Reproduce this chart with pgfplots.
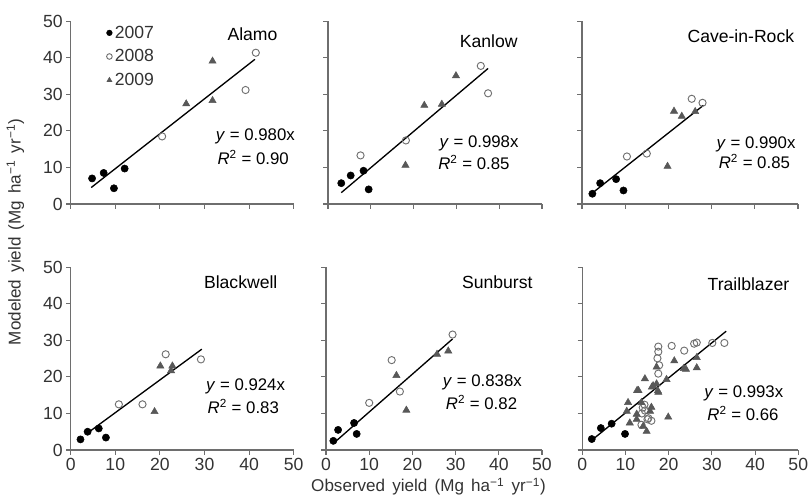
\documentclass[border=0pt]{standalone}
\usepackage{fontspec}
\setmainfont{Liberation Sans}
\usepackage{pgfplots}
\pgfplotsset{compat=1.18}
\definecolor{axgray}{HTML}{6E6E6E}
\definecolor{tri}{HTML}{585858}
\definecolor{opc}{HTML}{707070}
\definecolor{txt}{HTML}{333333}
\newcommand{\fs}{\fontsize{13.2}{15}\selectfont}
\newcommand{\fe}{\fontsize{12.6}{15}\selectfont}
\newcommand{\fl}{\fontsize{12.8}{15}\selectfont\spaceskip=0.42em plus 0.1em}
\pgfplotsset{
 panel/.style={
  scale only axis, height=137pt,
  xmin=0,xmax=50,ymin=0,ymax=50,
  axis x line*=bottom, axis y line*=left,
  axis line style={axgray, line width=0.9pt},
  xtick={0,10,...,50}, ytick={0,10,...,50},
  tick align=outside, major tick length=3.5pt,
  tick style={axgray, line width=0.8pt},
  tick label style={font=\fs, text=txt},
  xticklabel style={yshift=1pt},
  yticklabel style={xshift=1pt},
  /pgf/number format/assume math mode=true,
  anchor=south west, clip=false,
  every node/.append style={text=txt},
 },
 y07/.style={only marks, mark=*, mark size=2.7pt, black},
 y08/.style={only marks, mark=o, mark size=2.7pt, opc, mark options={fill=white, line width=0.7pt}},
 y09/.style={only marks, mark=triangle*, mark size=3.1pt, tri},
 fit/.style={black, line width=1pt, no marks},
}
\begin{document}
\begin{tikzpicture}
\useasboundingbox (0,0) rectangle (606pt,376.5pt);

% Alamo
\begin{axis}[panel, width=167.3pt, at={(53pt,223.5pt)}, xticklabels={},
  legend style={at={(axis cs:8.0,49.6)}, anchor=north west, draw=none, fill=none, font=\fs, row sep=3pt, inner sep=0pt, text=txt},
  legend cell align=left,
  legend image code/.code={\draw[mark repeat=2,mark phase=2,#1,mark size=2.1pt] plot coordinates {(0cm,0cm)(0.1cm,0cm)(0.2cm,0cm)};}]
\addplot[y07] coordinates {(4.8,7.0)(7.4,8.5)(9.7,4.3)(12.1,9.7)};
\addlegendentry{2007}
\addplot[y08] coordinates {(20.5,18.5)(39.2,31.2)(41.5,41.4)};
\addlegendentry{2008}
\addplot[y09] coordinates {(25.9,27.4)(31.8,28.3)(31.8,39.1)};
\addlegendentry{2009}
\addplot[fit, forget plot] coordinates {(4.6,4.5)(41.3,39.6)};
\node[anchor=east, font=\fs] at (axis cs:47.4,46.5) {Alamo};
\node[font=\fe] at (axis cs:41.4,18.5) {\textit{y} = 0.980x};
\node[font=\fe] at (axis cs:40.9,12.8) {\textit{R}\textsuperscript{2} = 0.90};
\end{axis}

% Kanlow
\begin{axis}[panel, width=160.5pt, at={(246pt,223.5pt)}, xticklabels={}, yticklabels={}]
\addplot[y07] coordinates {(3.1,5.7)(5.3,7.8)(8.3,9.1)(9.5,4.0)};
\addplot[y08] coordinates {(7.6,13.3)(18.2,17.4)(35.7,37.8)(37.4,30.3)};
\addplot[y09] coordinates {(18.1,10.6)(22.5,27.0)(26.6,27.3)(29.9,35.1)};
\addplot[fit] coordinates {(3.1,3.1)(37.4,37.1)};
\node[anchor=east, font=\fs] at (axis cs:45.4,44.6) {Kanlow};
\node[font=\fe] at (axis cs:35.3,16.5) {\textit{y} = 0.998x};
\node[font=\fe] at (axis cs:34.1,11.3) {\textit{R}\textsuperscript{2} = 0.85};
\end{axis}

% Cave-in-Rock
\begin{axis}[panel, width=162pt, at={(436.5pt,223.5pt)}, xticklabels={}, yticklabels={}]
\addplot[y07] coordinates {(2.4,2.8)(4.2,5.7)(7.9,6.8)(9.6,3.7)};
\addplot[y08] coordinates {(10.4,13.0)(15.0,13.8)(25.4,28.8)(27.9,27.7)};
\addplot[y09] coordinates {(19.8,10.3)(21.3,25.4)(23.1,24.0)(26.2,25.3)};
\addplot[fit] coordinates {(2.5,3.1)(28.1,27.0)};
\node[anchor=east, font=\fs] at (axis cs:50.2,46) {Cave-in-Rock};
\node[font=\fe] at (axis cs:40.3,16.3) {\textit{y} = 0.990x};
\node[font=\fe] at (axis cs:39.9,11.6) {\textit{R}\textsuperscript{2} = 0.85};
\end{axis}

% Blackwell
\begin{axis}[panel, width=167.3pt, at={(53pt,39pt)}]
\addplot[y07] coordinates {(2.2,2.9)(3.8,5.0)(6.3,5.9)(7.9,3.4)};
\addplot[y08] coordinates {(10.8,12.5)(16.1,12.5)(21.3,26.2)(29.2,24.8)};
\addplot[y09] coordinates {(18.8,10.5)(20.1,23.0)(22.8,23.0)(22.5,21.7)};
\addplot[fit] coordinates {(3.4,4.3)(29.4,27.6)};
\node[anchor=east, font=\fs] at (axis cs:47.4,45.8) {Blackwell};
\node[font=\fe] at (axis cs:39.2,17.3) {\textit{y} = 0.924x};
\node[font=\fe] at (axis cs:38.7,12.0) {\textit{R}\textsuperscript{2} = 0.83};
\end{axis}

% Sunburst
\begin{axis}[panel, width=162pt, at={(244.5pt,39pt)}, yticklabels={}]
\addplot[y07] coordinates {(1.7,2.5)(2.8,5.5)(6.5,7.4)(7.1,4.4)};
\addplot[y08] coordinates {(10.0,12.9)(15.2,24.6)(17.1,16.0)(29.3,31.6)};
\addplot[y09] coordinates {(16.3,20.4)(18.6,10.9)(25.7,26.2)(28.3,27.1)};
\addplot[fit] coordinates {(1.7,1.8)(29.3,30.4)};
\node[anchor=east, font=\fs] at (axis cs:48.9,46) {Sunburst};
\node[font=\fe] at (axis cs:36.2,18.4) {\textit{y} = 0.838x};
\node[font=\fe] at (axis cs:36.0,13.0) {\textit{R}\textsuperscript{2} = 0.82};
\end{axis}

% Trailblazer
\begin{axis}[panel, width=162pt, at={(436.7pt,39pt)}, yticklabels={}]
\addplot[y07] coordinates {(2.2,3.0)(4.3,6.0)(6.8,7.2)(9.9,4.4)};
\addplot[y08] coordinates {(17.6,28.3)(17.6,26.9)(17.4,25.1)(17.8,23.2)(17.6,20.9)(20.7,28.5)(23.6,27.2)(25.9,29.1)(26.5,29.4)(30.1,29.3)(32.9,29.3)(13.7,6.9)(15.1,8.4)(14.4,12.4)(14.5,10.8)(15.3,8.7)(13.8,10.0)(16.0,8.0)(14.0,11.6)};
\addplot[y09] coordinates {(21.3,24.4)(24.0,22.1)(26.5,22.5)(26.5,25.3)(17.2,18.1)(14.5,19.5)(13.0,16.3)(16.1,17.2)(17.6,15.8)(10.3,10.6)(10.6,13.0)(19.9,9.0)(14.1,6.5)(14.9,5.1)(12.6,8.4)(11.0,7.4)(15.7,10.6)(16.0,11.7)(13.7,13.0)(17.2,22.7)(23.5,22.3)(19.5,19.3)(16.4,17.6)(17.5,16.2)(12.6,9.8)(12.7,16.3)};
\addplot[fit] coordinates {(1.8,2.3)(33.3,32.5)};
\node[anchor=east, font=\fs] at (axis cs:49.0,45.3) {Trailblazer};
\node[font=\fe] at (axis cs:37.4,15.4) {\textit{y} = 0.993x};
\node[font=\fe] at (axis cs:37.2,9.9) {\textit{R}\textsuperscript{2} = 0.66};
\end{axis}

\node[font=\fl, text=txt] at (321.4pt,11.5pt) {Observed yield (Mg ha\textsuperscript{−1} yr\textsuperscript{−1})};
\node[font=\fl, text=txt, rotate=90] at (11.5pt,202.5pt) {Modeled yield (Mg ha\textsuperscript{−1} yr\textsuperscript{−1})};
\end{tikzpicture}
\end{document}
